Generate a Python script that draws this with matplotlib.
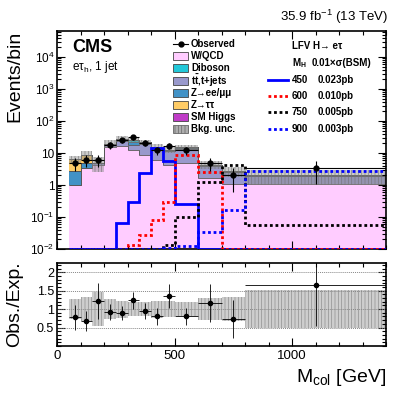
import numpy as np
import matplotlib
matplotlib.use('Agg')
import matplotlib.pyplot as plt
from matplotlib.patches import Rectangle
from matplotlib.lines import Line2D
from matplotlib.ticker import FixedLocator, MultipleLocator, NullFormatter, LogLocator

plt.rcParams['font.family'] = ['Liberation Sans', 'DejaVu Sans']
plt.rcParams['mathtext.fontset'] = 'custom'
plt.rcParams['mathtext.rm'] = 'Liberation Sans'
plt.rcParams['mathtext.it'] = 'Liberation Sans:italic'
plt.rcParams['mathtext.bf'] = 'Liberation Sans:bold'
plt.rcParams['hatch.linewidth'] = 0.5

# binning (GeV)
edges = [50, 100, 150, 200, 250, 300, 350, 400, 450, 500, 600, 700, 800, 1400]

# background stack (events/bin)
wqcd    = [1.0, 3.3, 4.3, 15.0, 17.0, 12.0, 8.7, 6.0, 4.3, 5.0, 1.7, 1.1, 1.1]
ttbar   = [0.0, 0.0, 0.4, 3.0, 7.0, 6.0, 11.0, 7.5, 7.0, 8.5, 2.3, 1.4, 0.8]
zee     = [1.8, 1.5, 0.1, 1.0, 3.0, 4.0, 1.5, 1.0, 0.8, 1.0, 0.2, 0.1, 0.0]
diboson = [0.0, 0.0, 0.05, 0.5, 1.0, 3.0, 0.8, 0.5, 0.4, 0.5, 0.1, 0.1, 0.1]
ztt     = [3.6, 4.0, 0.1, 0.0, 0.0, 0.0, 0.0, 0.0, 0.0, 0.0, 0.0, 0.0, 0.0]
higgs   = [0.0, 0.0, 0.0, 0.0, 0.0, 0.0, 0.0, 0.0, 0.0, 0.0, 0.0, 0.0, 0.0]
bkg_unc = [0.27, 0.33, 0.47, 0.27, 0.23, 0.20, 0.19, 0.23, 0.22, 0.20, 0.29, 0.33, 0.51]

# observed
obs     = [5, 6, 6, 18, 25, 31, 21, 12, 17, 12, 5, 2, 3.3]
obs_err = [2.2, 2.4, 2.4, 4.2, 5.0, 5.6, 4.6, 3.5, 4.1, 3.5, 2.2, 1.4, 2.2]

# LFV signals (0.01 x sigma)
sig450 = [0, 0, 0, 0, 0.063, 0.30, 2.4, 14.0, 5.8, 0.25, 0, 0, 0]
sig600 = [0, 0, 0, 0, 0, 0.013, 0.027, 0.08, 0.30, 8.7, 2.6, 0, 0]
sig750 = [0, 0, 0, 0, 0, 0, 0, 0, 0.013, 0.10, 1.25, 4.3, 0.056]
sig900 = [0, 0, 0, 0, 0, 0, 0, 0, 0.011, 0.012, 0.035, 0.165, 2.75]

edges = np.array(edges, dtype=float)
centers = 0.5 * (edges[1:] + edges[:-1])
halfw = 0.5 * (edges[1:] - edges[:-1])

W, H = 407, 395
fig = plt.figure(figsize=(W / 100, H / 100), dpi=100)


def fx(x):
    return x / W


def fy(y):
    return 1 - y / H


ax = fig.add_axes([fx(57), fy(249), fx(386) - fx(57), fy(31) - fy(249)])
rax = fig.add_axes([fx(57), fy(346), fx(386) - fx(57), fy(263) - fy(346)])

# stacked backgrounds
comps = [
    (wqcd, '#ffccff'),
    (ttbar, '#9999cc'),
    (zee, '#4292c6'),
    (diboson, '#22c8d8'),
    (ztt, '#ffcc66'),
    (higgs, '#c03cc8'),
]
floor = 1e-4
cum = np.full(len(centers), floor)
for vals, col in comps:
    vals = np.array(vals, dtype=float)
    new = cum + vals
    ax.stairs(new, edges, baseline=cum, fill=True, color=col, linewidth=0)
    cum = new
cum = np.full(len(centers), floor)
for vals, col in comps:
    cum = cum + np.array(vals, dtype=float)
    ax.stairs(cum, edges, baseline=None, color='#555555', linewidth=0.6)
total = cum - floor

unc = np.array(bkg_unc)
ax.stairs(total * (1 + unc), edges, baseline=total * (1 - unc), fill=True,
          facecolor=(0.55, 0.55, 0.55, 0.45), edgecolor=(0.45, 0.45, 0.45, 0.8),
          hatch='|||||', linewidth=0)

# signals
sig_styles = [
    (sig450, '#0000ff', '-'),
    (sig600, '#ff0000', (0, (1, 1))),
    (sig750, '#000000', (0, (1, 1))),
    (sig900, '#0000ff', (0, (1, 1))),
]
for vals, col, ls in sig_styles:
    v = np.maximum(np.array(vals, dtype=float), 1.0e-2)
    ax.stairs(v, edges, color=col, linestyle=ls, linewidth=2, baseline=None, zorder=4)

ax.errorbar(centers, obs, xerr=halfw, yerr=obs_err, fmt='o', color='black',
            ms=3.5, elinewidth=0.8, capsize=0, zorder=5)

ax.set_yscale('log')
ax.set_xlim(0, 1400)
ax.set_ylim(1e-2, 6.5e4)
ax.yaxis.set_major_locator(FixedLocator([1e-2, 1e-1, 1, 10, 1e2, 1e3, 1e4]))
ax.set_yticklabels(['$10^{-2}$', '$10^{-1}$', '1', '10', '$10^{2}$', '$10^{3}$', '$10^{4}$'])
ax.yaxis.set_minor_locator(LogLocator(base=10, subs=np.arange(2, 10)))
ax.yaxis.set_minor_formatter(NullFormatter())
ax.xaxis.set_major_locator(MultipleLocator(500))
ax.xaxis.set_minor_locator(MultipleLocator(100))
ax.set_xticklabels([])

# ratio
ratio = np.array(obs) / total
ratio_err = np.array(obs_err) / total
rax.stairs(1 + unc, edges, baseline=1 - unc, fill=True,
           facecolor=(0.62, 0.62, 0.62, 0.5), edgecolor=(0.5, 0.5, 0.5, 0.8),
           hatch='|||||', linewidth=0)
for yv in [0.5, 1.0, 1.5, 2.0]:
    rax.axhline(yv, color='#888888', linestyle=(0, (1, 1)), linewidth=0.7)
rax.errorbar(centers, ratio, xerr=halfw, yerr=ratio_err, fmt='o', color='black',
             ms=3, elinewidth=0.6, capsize=0, zorder=5)
rax.set_xlim(0, 1400)
rax.set_ylim(0, 2.25)
rax.yaxis.set_major_locator(FixedLocator([0.5, 1.0, 1.5, 2.0]))
rax.set_yticklabels(['0.5', '1', '1.5', '2'])
rax.yaxis.set_minor_locator(MultipleLocator(0.1))
rax.xaxis.set_major_locator(MultipleLocator(500))
rax.xaxis.set_minor_locator(MultipleLocator(100))

for a in (ax, rax):
    a.tick_params(which='both', direction='in', top=True, right=True, width=0.8)
    a.tick_params(which='major', length=6)
    a.tick_params(which='minor', length=3)
    for s in a.spines.values():
        s.set_linewidth(1.2)
ax.tick_params(axis='y', labelsize=8.5, pad=2)
rax.tick_params(axis='y', labelsize=9, pad=2)
rax.tick_params(axis='x', labelsize=9.5, pad=3)

# axis titles
fig.text(fx(15), fy(31), 'Events/bin', rotation=90, ha='center', va='top', fontsize=14)
fig.text(fx(15), fy(304), 'Obs./Exp.', rotation=90, ha='center', va='center', fontsize=14)
fig.text(fx(386), fy(377), r'M$_{\mathrm{col}}$ [GeV]', ha='right', va='center', fontsize=14)
fig.text(fx(388), fy(17), r'35.9 fb$^{-1}$ (13 TeV)', ha='right', va='center', fontsize=9.5)
fig.text(fx(72), fy(48), 'CMS', ha='left', va='center', fontsize=13, fontweight='bold')
fig.text(fx(72), fy(67), r'e$\mathrm{\tau_h}$, 1 jet', ha='left', va='center', fontsize=8.5)

# left legend
leg_items = [
    ('obs', 'Observed'),
    ('#ffccff', 'W/QCD'),
    ('#22c8d8', 'Diboson'),
    ('#9999cc', r'$\mathbf{t\bar{t}}$,t+jets'),
    ('#4292c6', 'Z→ee/μμ'),
    ('#ffcc66', 'Z→ττ'),
    ('#c03cc8', 'SM Higgs'),
    ('unc', 'Bkg. unc.'),
]
for i, (kind, lab) in enumerate(leg_items):
    yc = 44 + 12.2 * i
    if kind == 'obs':
        fig.add_artist(Line2D([fx(173), fx(188)], [fy(yc), fy(yc)], color='black', lw=0.8))
        fig.add_artist(Line2D([fx(180.5)], [fy(yc)], marker='o', ms=3.5, color='black'))
    elif kind == 'unc':
        fig.add_artist(Rectangle((fx(173), fy(yc + 4)), fx(15), 8 / H,
                                 facecolor=(0.55, 0.55, 0.55, 0.7),
                                 edgecolor=(0.4, 0.4, 0.4), hatch='|||||', lw=0.6))
    else:
        fig.add_artist(Rectangle((fx(173), fy(yc + 4)), fx(15), 8 / H,
                                 facecolor=kind, edgecolor='#444444', lw=0.6))
    fig.text(fx(191), fy(yc), lab, ha='left', va='center', fontsize=7, fontweight='bold')

# right legend
fig.text(fx(292), fy(46), 'LFV H→ eτ', ha='left', va='center', fontsize=7, fontweight='bold')
fig.text(fx(292), fy(63), r'M$_{\mathbf{H}}$', ha='left', va='center', fontsize=7, fontweight='bold')
fig.text(fx(312), fy(63), '0.01×σ(BSM)', ha='left', va='center', fontsize=7, fontweight='bold')
sig_labels = [('450', '0.023pb'), ('600', '0.010pb'), ('750', '0.005pb'), ('900', '0.003pb')]
for k, ((m, xs), (_, col, ls)) in enumerate(zip(sig_labels, sig_styles)):
    yc = 80 + 16.2 * k
    fig.add_artist(Line2D([fx(268), fx(288)], [fy(yc), fy(yc)], color=col, linestyle=ls, lw=2))
    fig.text(fx(292), fy(yc), m, ha='left', va='center', fontsize=7, fontweight='bold')
    fig.text(fx(318), fy(yc), xs, ha='left', va='center', fontsize=7, fontweight='bold')

fig.savefig('out.png', dpi=100)
